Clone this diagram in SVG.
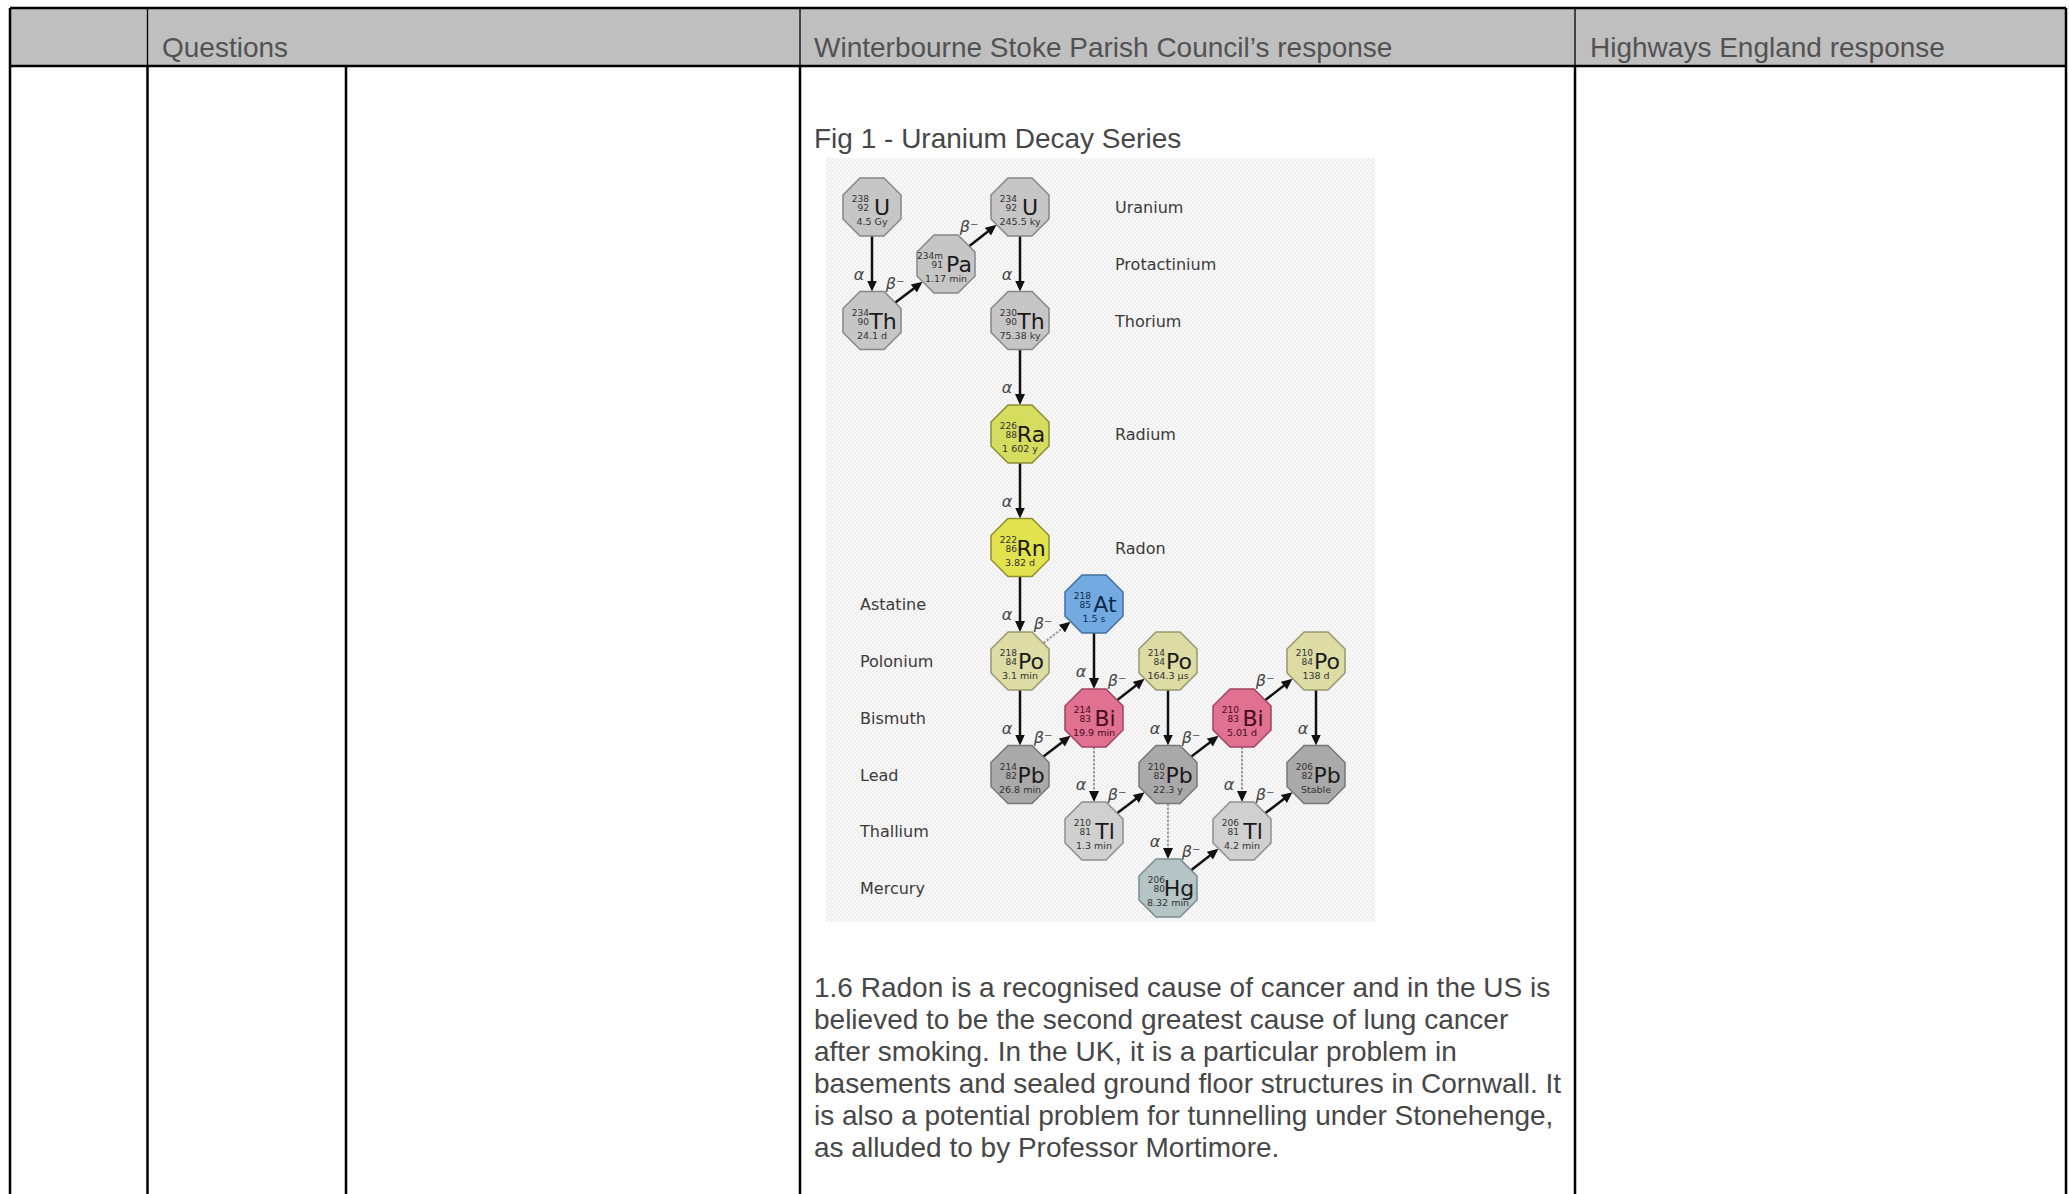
<svg xmlns="http://www.w3.org/2000/svg" xmlns:xlink="http://www.w3.org/1999/xlink" width="2069" height="1194" viewBox="0 0 2069 1194">
<style>
.doc{font-family:"Liberation Sans",Arial,sans-serif;font-size:28px;fill:#474747}
.hdr{fill:#525252}
.lbl{font-family:"DejaVu Sans",sans-serif;font-size:16px;fill:#3a3a3a}
.sym{font-family:"DejaVu Sans",sans-serif;font-size:22px;fill:#1a1a1a;text-anchor:middle}
.sm{font-family:"DejaVu Sans",sans-serif;font-size:9px;fill:#333}
.ma{text-anchor:end}
.hl{text-anchor:middle;font-size:9.5px}
.gray{fill:#c6c6c6;stroke:#878787;stroke-width:1.5}
.pb{fill:#a9a9a9;stroke:#777;stroke-width:1.5}
.tl{fill:#d0d0d0;stroke:#8e8e8e;stroke-width:1.5}
.ra{fill:#d6dc5e;stroke:#8a8c3a;stroke-width:1.5}
.rn{fill:#e2e24e;stroke:#8f8f30;stroke-width:1.5}
.po{fill:#dcdca4;stroke:#979770;stroke-width:1.5}
.bi{fill:#e07190;stroke:#a04462;stroke-width:1.5}
.at{fill:#74aae2;stroke:#44709e;stroke-width:1.5}
.hg{fill:#b5c5c6;stroke:#7a8a8b;stroke-width:1.5}
.bit{fill:#4a0a22}
.att{fill:#0c2a4a}
.arr{stroke:#111;stroke-width:2.5;fill:none;marker-end:url(#ah)}
.dash{stroke:#9a9a9a;stroke-width:2;fill:none;stroke-dasharray:2.5 1.5;marker-end:url(#ah)}
.gk{font-family:"DejaVu Sans",sans-serif;font-size:16px;font-style:italic;fill:#444;text-anchor:middle}
.tline{stroke:#000;stroke-width:2.5}
.thin{stroke:#000;stroke-width:1.3}
</style>
<defs>
<polygon id="oct" points="-12,-29 12,-29 29,-12 29,12 12,29 -12,29 -29,12 -29,-12"/>
<marker id="ah" markerUnits="userSpaceOnUse" markerWidth="12" markerHeight="12" viewBox="0 -6 12 12" refX="7" refY="0" orient="auto">
<path d="M0,-5 L11,0 L0,5 z" fill="#111"/>
</marker>
<pattern id="chk" width="4" height="4" patternUnits="userSpaceOnUse">
<rect width="4" height="4" fill="#efefef"/>
<rect width="2" height="2" fill="#f8f8f8"/>
<rect x="2" y="2" width="2" height="2" fill="#f8f8f8"/>
</pattern>
</defs>
<rect width="2069" height="1194" fill="#ffffff"/>
<g id="table">
<rect x="10" y="8" width="2056" height="58" fill="#bfbfbf"/>
<line class="tline" x1="10" y1="8" x2="2066" y2="8"/>
<line class="tline" x1="10" y1="66" x2="2066" y2="66"/>
<line class="tline" x1="10" y1="8" x2="10" y2="1194"/>
<line class="tline" x1="2066" y1="8" x2="2066" y2="1194"/>
<line class="thin" x1="147.5" y1="8" x2="147.5" y2="66"/>
<line class="thin" x1="800" y1="8" x2="800" y2="66"/>
<line class="thin" x1="1575" y1="8" x2="1575" y2="66"/>
<line class="tline" x1="147.5" y1="66" x2="147.5" y2="1194"/>
<line class="tline" x1="346" y1="66" x2="346" y2="1194"/>
<line class="tline" x1="800" y1="66" x2="800" y2="1194"/>
<line class="tline" x1="1575" y1="66" x2="1575" y2="1194"/>
<text class="doc hdr" x="162" y="57">Questions</text>
<text class="doc hdr" x="814" y="57">Winterbourne Stoke Parish Council’s response</text>
<text class="doc hdr" x="1590" y="57">Highways England response</text>
<text class="doc" x="814" y="148">Fig 1 - Uranium Decay Series</text>
<text class="doc" x="814" y="997">1.6 Radon is a recognised cause of cancer and in the US is</text>
<text class="doc" x="814" y="1029">believed to be the second greatest cause of lung cancer</text>
<text class="doc" x="814" y="1061">after smoking. In the UK, it is a particular problem in</text>
<text class="doc" x="814" y="1093">basements and sealed ground floor structures in Cornwall. It</text>
<text class="doc" x="814" y="1125">is also a potential problem for tunnelling under Stonehenge,</text>
<text class="doc" x="814" y="1157">as alluded to by Professor Mortimore.</text>
</g>
<rect id="figure-bg" x="826" y="158" width="549" height="764" fill="url(#chk)"/>
<g id="element-labels">
<text class="lbl" x="1115" y="213">Uranium</text>
<text class="lbl" x="1115" y="270">Protactinium</text>
<text class="lbl" x="1115" y="326.5">Thorium</text>
<text class="lbl" x="1115" y="440">Radium</text>
<text class="lbl" x="1115" y="553.5">Radon</text>
<text class="lbl" x="860" y="610">Astatine</text>
<text class="lbl" x="860" y="667">Polonium</text>
<text class="lbl" x="860" y="724">Bismuth</text>
<text class="lbl" x="860" y="780.5">Lead</text>
<text class="lbl" x="860" y="837">Thallium</text>
<text class="lbl" x="860" y="894">Mercury</text>
</g>
<g id="connectors">
<line class="arr" x1="872" y1="236" x2="872" y2="287.5"/>
<line class="arr" x1="1020" y1="236" x2="1020" y2="287.5"/>
<line class="arr" x1="1020" y1="349.5" x2="1020" y2="401"/>
<line class="arr" x1="1020" y1="463" x2="1020" y2="514.5"/>
<line class="arr" x1="1020" y1="576.5" x2="1020" y2="628"/>
<line class="arr" x1="1094" y1="633" x2="1094" y2="685"/>
<line class="arr" x1="1020" y1="690" x2="1020" y2="741.5"/>
<line class="arr" x1="1168" y1="690" x2="1168" y2="741.5"/>
<line class="arr" x1="1316" y1="690" x2="1316" y2="741.5"/>
<line class="dash" x1="1094" y1="747" x2="1094" y2="798"/>
<line class="dash" x1="1168" y1="803.5" x2="1168" y2="855"/>
<line class="dash" x1="1242" y1="747" x2="1242" y2="798"/>
<line class="arr" x1="895.4" y1="302.6" x2="919.4" y2="284.3"/>
<line class="arr" x1="969.4" y1="246.1" x2="993.4" y2="227.3"/>
<line class="dash" x1="1043.4" y1="643.1" x2="1067.4" y2="624.3"/>
<line class="arr" x1="1043.4" y1="756.6" x2="1067.4" y2="738.3"/>
<line class="arr" x1="1117.4" y1="700.1" x2="1141.4" y2="681.3"/>
<line class="arr" x1="1117.4" y1="813.1" x2="1141.4" y2="794.8"/>
<line class="arr" x1="1191.4" y1="756.6" x2="1215.4" y2="738.3"/>
<line class="arr" x1="1265.4" y1="700.1" x2="1289.4" y2="681.3"/>
<line class="arr" x1="1191.4" y1="870.1" x2="1215.4" y2="851.3"/>
<line class="arr" x1="1265.4" y1="813.1" x2="1289.4" y2="794.8"/>
<text class="gk" x="859" y="280">α</text>
<text class="gk" x="1007" y="280">α</text>
<text class="gk" x="1007" y="393">α</text>
<text class="gk" x="1007" y="507">α</text>
<text class="gk" x="1007" y="620">α</text>
<text class="gk" x="1081" y="677">α</text>
<text class="gk" x="1007" y="734">α</text>
<text class="gk" x="1155" y="734">α</text>
<text class="gk" x="1303" y="734">α</text>
<text class="gk" x="1081" y="790">α</text>
<text class="gk" x="1155" y="847">α</text>
<text class="gk" x="1229" y="790">α</text>
<text class="gk" x="895" y="289">β⁻</text>
<text class="gk" x="969" y="232">β⁻</text>
<text class="gk" x="1043" y="629">β⁻</text>
<text class="gk" x="1043" y="743">β⁻</text>
<text class="gk" x="1117" y="686">β⁻</text>
<text class="gk" x="1117" y="800">β⁻</text>
<text class="gk" x="1191" y="743">β⁻</text>
<text class="gk" x="1265" y="686">β⁻</text>
<text class="gk" x="1191" y="857">β⁻</text>
<text class="gk" x="1265" y="800">β⁻</text>
</g>
<g id="n-u238" transform="translate(872,207)"><use xlink:href="#oct" class="gray"/><text class="sym" x="10" y="8">U</text><text class="sm ma" x="-3" y="-5">238</text><text class="sm ma" x="-3" y="4">92</text><text class="sm hl" x="0" y="18">4.5 Gy</text></g>
<g id="n-th234" transform="translate(872,320.5)"><use xlink:href="#oct" class="gray"/><text class="sym" x="11" y="8">Th</text><text class="sm ma" x="-3" y="-5">234</text><text class="sm ma" x="-3" y="4">90</text><text class="sm hl" x="0" y="18">24.1 d</text></g>
<g id="n-pa234m" transform="translate(946,264)"><use xlink:href="#oct" class="gray"/><text class="sym" x="13" y="8">Pa</text><text class="sm ma" x="-3" y="-5">234m</text><text class="sm ma" x="-3" y="4">91</text><text class="sm hl" x="0" y="18">1.17 min</text></g>
<g id="n-u234" transform="translate(1020,207)"><use xlink:href="#oct" class="gray"/><text class="sym" x="10" y="8">U</text><text class="sm ma" x="-3" y="-5">234</text><text class="sm ma" x="-3" y="4">92</text><text class="sm hl" x="0" y="18">245.5 ky</text></g>
<g id="n-th230" transform="translate(1020,320.5)"><use xlink:href="#oct" class="gray"/><text class="sym" x="11" y="8">Th</text><text class="sm ma" x="-3" y="-5">230</text><text class="sm ma" x="-3" y="4">90</text><text class="sm hl" x="0" y="18">75.38 ky</text></g>
<g id="n-ra226" transform="translate(1020,434)"><use xlink:href="#oct" class="ra"/><text class="sym" x="11" y="8">Ra</text><text class="sm ma" x="-3" y="-5">226</text><text class="sm ma" x="-3" y="4">88</text><text class="sm hl" x="0" y="18">1 602 y</text></g>
<g id="n-rn222" transform="translate(1020,547.5)"><use xlink:href="#oct" class="rn"/><text class="sym" x="11" y="8">Rn</text><text class="sm ma" x="-3" y="-5">222</text><text class="sm ma" x="-3" y="4">86</text><text class="sm hl" x="0" y="18">3.82 d</text></g>
<g id="n-at218" transform="translate(1094,604)"><use xlink:href="#oct" class="at"/><text class="sym att" x="11" y="8">At</text><text class="sm ma att" x="-3" y="-5">218</text><text class="sm ma att" x="-3" y="4">85</text><text class="sm hl att" x="0" y="18">1.5 s</text></g>
<g id="n-po218" transform="translate(1020,661)"><use xlink:href="#oct" class="po"/><text class="sym" x="11" y="8">Po</text><text class="sm ma" x="-3" y="-5">218</text><text class="sm ma" x="-3" y="4">84</text><text class="sm hl" x="0" y="18">3.1 min</text></g>
<g id="n-bi214" transform="translate(1094,718)"><use xlink:href="#oct" class="bi"/><text class="sym bit" x="11" y="8">Bi</text><text class="sm ma bit" x="-3" y="-5">214</text><text class="sm ma bit" x="-3" y="4">83</text><text class="sm hl bit" x="0" y="18">19.9 min</text></g>
<g id="n-po214" transform="translate(1168,661)"><use xlink:href="#oct" class="po"/><text class="sym" x="11" y="8">Po</text><text class="sm ma" x="-3" y="-5">214</text><text class="sm ma" x="-3" y="4">84</text><text class="sm hl" x="0" y="18">164.3 µs</text></g>
<g id="n-pb214" transform="translate(1020,774.5)"><use xlink:href="#oct" class="pb"/><text class="sym" x="11" y="8">Pb</text><text class="sm ma" x="-3" y="-5">214</text><text class="sm ma" x="-3" y="4">82</text><text class="sm hl" x="0" y="18">26.8 min</text></g>
<g id="n-tl210" transform="translate(1094,831)"><use xlink:href="#oct" class="tl"/><text class="sym" x="11" y="8">Tl</text><text class="sm ma" x="-3" y="-5">210</text><text class="sm ma" x="-3" y="4">81</text><text class="sm hl" x="0" y="18">1.3 min</text></g>
<g id="n-pb210" transform="translate(1168,774.5)"><use xlink:href="#oct" class="pb"/><text class="sym" x="11" y="8">Pb</text><text class="sm ma" x="-3" y="-5">210</text><text class="sm ma" x="-3" y="4">82</text><text class="sm hl" x="0" y="18">22.3 y</text></g>
<g id="n-bi210" transform="translate(1242,718)"><use xlink:href="#oct" class="bi"/><text class="sym bit" x="11" y="8">Bi</text><text class="sm ma bit" x="-3" y="-5">210</text><text class="sm ma bit" x="-3" y="4">83</text><text class="sm hl bit" x="0" y="18">5.01 d</text></g>
<g id="n-po210" transform="translate(1316,661)"><use xlink:href="#oct" class="po"/><text class="sym" x="11" y="8">Po</text><text class="sm ma" x="-3" y="-5">210</text><text class="sm ma" x="-3" y="4">84</text><text class="sm hl" x="0" y="18">138 d</text></g>
<g id="n-pb206" transform="translate(1316,774.5)"><use xlink:href="#oct" class="pb"/><text class="sym" x="11" y="8">Pb</text><text class="sm ma" x="-3" y="-5">206</text><text class="sm ma" x="-3" y="4">82</text><text class="sm hl" x="0" y="18">Stable</text></g>
<g id="n-tl206" transform="translate(1242,831)"><use xlink:href="#oct" class="tl"/><text class="sym" x="11" y="8">Tl</text><text class="sm ma" x="-3" y="-5">206</text><text class="sm ma" x="-3" y="4">81</text><text class="sm hl" x="0" y="18">4.2 min</text></g>
<g id="n-hg206" transform="translate(1168,888)"><use xlink:href="#oct" class="hg"/><text class="sym" x="11" y="8">Hg</text><text class="sm ma" x="-3" y="-5">206</text><text class="sm ma" x="-3" y="4">80</text><text class="sm hl" x="0" y="18">8.32 min</text></g>
</svg>
